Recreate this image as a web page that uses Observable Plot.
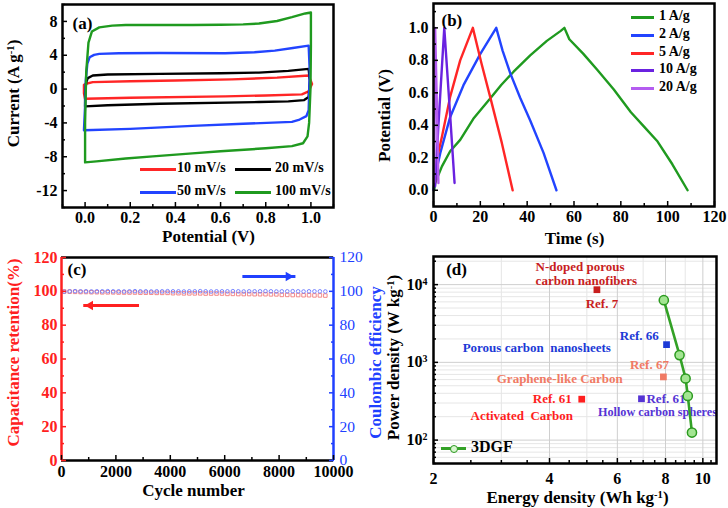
<!DOCTYPE html>
<html><head><meta charset="utf-8">
<script src="https://cdn.jsdelivr.net/npm/d3@7"></script>
<script src="https://cdn.jsdelivr.net/npm/@observablehq/plot@0.6"></script>
<style>
html,body{margin:0;padding:0;background:#fff;}
#root{position:relative;width:728px;height:508px;overflow:hidden;font-family:"Liberation Serif","Times New Roman",serif;font-weight:bold;}
#root svg{position:absolute;left:0;top:0;}
.lg-line{position:absolute;height:3px;}
.lg-text{position:absolute;line-height:1;white-space:nowrap;}
.lg-dot{position:absolute;border-radius:50%;box-sizing:border-box;}
</style></head><body><div id="root"></div>
<script>
// ---------- (a) cyclic voltammetry ----------
const cvLabels = ["10 mV/s", "20 mV/s", "50 mV/s", "100 mV/s"];
const cvColors = ["#ff2626", "#000000", "#2244ff", "#1f9a1f"];
const cv10 = [[0.0,-1.14],[-0.005,-0.5],[-0.005,0.5],[0.004,0.63],[0.034,0.82],[0.2,0.92],[0.4,1.02],[0.65,1.15],[0.85,1.35],[0.99,1.6],[1.005,0.6],[0.99,-0.27],[0.96,-0.63],[0.8,-0.75],[0.62,-0.86],[0.2,-1.02],[0.0,-1.14]];
const cv20 = [[0.0,-2.04],[0.0,-0.5],[0.005,0.8],[0.012,1.29],[0.034,1.6],[0.1,1.72],[0.33,1.8],[0.6,1.88],[0.77,1.95],[0.9,2.15],[0.99,2.39],[0.995,1.0],[0.99,-0.94],[0.97,-1.3],[0.9,-1.45],[0.77,-1.53],[0.33,-1.73],[0.1,-1.92],[0.0,-2.04]];
const cv50 = [[-0.005,-4.86],[0.0,-2],[0.003,1],[0.01,3.0],[0.02,3.76],[0.04,4.05],[0.063,4.16],[0.15,4.24],[0.33,4.27],[0.62,4.23],[0.75,4.35],[0.84,4.55],[0.92,4.85],[0.99,5.14],[0.995,2],[0.99,-2.5],[0.98,-3.2],[0.95,-3.6],[0.916,-3.88],[0.7,-4.1],[0.475,-4.35],[0.2,-4.7],[-0.005,-4.86]];
const cv100 = [[0.0,-8.67],[0.0,-4],[0.005,2],[0.015,5.5],[0.03,6.8],[0.063,7.3],[0.12,7.5],[0.18,7.57],[0.3,7.58],[0.475,7.57],[0.6,7.6],[0.7,7.65],[0.77,7.75],[0.85,8.05],[0.916,8.5],[0.975,8.94],[1.0,9.06],[1.0,5],[0.998,0],[0.992,-4],[0.985,-5.6],[0.965,-6.4],[0.916,-6.75],[0.8,-7.0],[0.6,-7.35],[0.475,-7.6],[0.3,-7.95],[0.18,-8.2],[0.05,-8.55],[0.0,-8.67]];
const cvCurves = [cv10, cv20, cv50, cv100];
const cvPotentialTicks = [0, 0.2, 0.4, 0.6, 0.8, 1.0];
const cvPotentialMinor = [-0.1, 0.1, 0.3, 0.5, 0.7, 0.9, 1.1];
const cvCurrentTicks = [-12, -8, -4, 0, 4, 8];
const cvCurrentMinor = [-14, -10, -6, -2, 2, 6, 10];

// ---------- (b) galvanostatic charge-discharge ----------
const gcdLabels = ["1 A/g", "2 A/g", "5 A/g", "10 A/g", "20 A/g"];
const gcdColors = ["#1f9a1f", "#2244ff", "#ff2626", "#6a22e0", "#b45cf0"];
const gcd1 = [[0.3,0],[0.7,0.045],[3.6,0.147],[7.1,0.24],[11.4,0.31],[17,0.44],[24.2,0.565],[29,0.65],[34.2,0.73],[41.3,0.83],[48.4,0.92],[54.2,0.98],[55.9,1.0],[58,0.93],[64,0.84],[70,0.74],[77,0.62],[84.3,0.48],[90,0.39],[95.7,0.3],[102,0.16],[108.5,0.0]];
const gcd2 = [[0,0],[0.7,0.086],[2.9,0.23],[7.1,0.45],[12.8,0.647],[20,0.84],[26.8,1.0],[29.5,0.86],[32.8,0.72],[37,0.57],[41.3,0.43],[47,0.23],[52.5,0.0]];
const gcd5 = [[0.7,0.045],[1.4,0.19],[3.6,0.33],[7.1,0.575],[11.4,0.80],[16.8,1.0],[20.5,0.78],[24.2,0.575],[29.2,0.29],[33.8,0.0]];
const gcd10 = [[0.7,0.025],[2.1,0.4],[4.6,1.0],[6.8,0.53],[9.0,0.045]];
const gcd20 = [[0.3,0.05],[0.7,1.0],[1.4,0.55],[2.1,0.045]];
const gcdCurves = [gcd1, gcd2, gcd5, gcd10, gcd20];
const timeTicks = [0, 20, 40, 60, 80, 100, 120];
const timeMinor = [10, 30, 50, 70, 90, 110];
const potTicks = [0, 0.2, 0.4, 0.6, 0.8, 1.0];
const potMinor = [0.1, 0.3, 0.5, 0.7, 0.9, 1.1];

// ---------- (c) cycling stability ----------
const cycleNumber = [100,300,500,700,900,1100,1300,1500,1700,1900,2100,2300,2500,2700,2900,3100,3300,3500,3700,3900,4100,4300,4500,4700,4900,5100,5300,5500,5700,5900,6100,6300,6500,6700,6900,7100,7300,7500,7700,7900,8100,8300,8500,8700,8900,9100,9300,9500,9700];
const retention = [99.9,99.8,99.7,99.6,99.6,99.5,99.5,99.4,99.4,99.4,99.3,99.3,99.3,99.3,99.2,99.2,99.2,99.1,99.1,99.1,98.9,98.9,98.8,98.8,98.8,98.8,98.7,98.7,98.7,98.7,98.5,98.5,98.4,98.4,98.4,98.3,98.3,98.3,98.2,98.2,97.9,97.9,97.8,97.8,97.7,97.7,97.6,97.6,97.5];
const efficiency = [99.8,100.0,100.1,100.0,100.0,99.9,100.0,100.0,100.1,100.0,100.0,99.9,100.0,100.1,100.0,100.0,99.9,100.0,100.0,100.1,100.0,100.0,99.9,100.0,100.0,100.1,100.0,99.9,100.0,100.0,100.0,100.1,100.0,99.9,100.0,100.0,100.0,100.1,100.0,99.9,100.0,100.0,100.1,100.0,99.9,100.0,100.0,100.0,99.9];
const cycleTicks = [0, 2000, 4000, 6000, 8000, 10000];
const cycleMinor = [1000, 3000, 5000, 7000, 9000];
const pctTicks = [0, 20, 40, 60, 80, 100, 120];
const pctMinor = [10, 30, 50, 70, 90, 110];
const arrowFrom = [2850, 6650];
const arrowTo = [800, 8600];
const arrowLevel = [91.6, 108.8];
const arrowColors = ["#ff2020", "#2040ff"];

// ---------- (d) Ragone plot ----------
const dgfEnergy = [7.92, 8.70, 9.02, 9.14, 9.37];
const dgfPower = [6300, 1240, 620, 370, 125];
const refNames = ["Ref. 7", "Ref. 66", "Ref. 67", "Ref. 61", "Ref. 61"];
const refMaterials = ["N-doped porous\ncarbon nanofibers", "Porous carbon  nanosheets", "Graphene-like Carbon", "Activated  Carbon", "Hollow carbon spheres"];
const refEnergy = [5.31, 8.05, 7.9, 4.85, 6.93];
const refPower = [8600, 1690, 650, 336, 340];
const refColors = ["#c81e1e", "#1c3ad6", "#f07a64", "#ff1e1e", "#5534d4"];
const energyTicks = [2, 4, 6, 8, 10];
const energyMinor = [2.5, 3, 3.5, 4.5, 5, 5.5, 6.5, 7, 7.5, 8.5, 9, 9.5, 10.5];
const energyGrid = [3, 5, 7, 9];
const powerTicks = [100, 1000, 10000];
const powerMinor = [50,60,70,80,90,200,300,400,500,600,700,800,900,2000,3000,4000,5000,6000,7000,8000,9000,20000];

// ---------- helpers ----------
const W = 728, H = 508;
const FONT = '"Liberation Serif","Times New Roman",serif';
const root = document.getElementById("root");
const base = (l, t, r, b) => ({
  width: W, height: H, marginLeft: l, marginTop: t, marginRight: W - r, marginBottom: H - b,
  style: {background: "transparent", fontFamily: FONT, fontWeight: "bold", fontSize: "16px", color: "#000", overflow: "visible"}
});
function axX(major, minor, fmt, o = {}) {
  const c = o.color || "#000", m = [];
  if (minor) m.push(Plot.axisX(minor, {anchor: "bottom", label: null, tickSize: -3, tickFormat: () => "", stroke: c, strokeWidth: 1.5}));
  m.push(Plot.axisX(major, {anchor: "bottom", label: null, tickSize: -5, tickFormat: () => "", stroke: c, strokeWidth: 1.5}));
  m.push(Plot.axisX(major, {anchor: "bottom", label: null, tickSize: 0, tickPadding: o.pad ?? 4, tickFormat: fmt, fill: c, fontSize: o.size || 16, fontWeight: o.weight || "bold"}));
  return m;
}
function axY(major, minor, fmt, o = {}) {
  const c = o.color || "#000", a = o.anchor || "left", m = [];
  if (minor) m.push(Plot.axisY(minor, {anchor: a, label: null, tickSize: -3, tickFormat: () => "", stroke: c, strokeWidth: 1.5}));
  m.push(Plot.axisY(major, {anchor: a, label: null, tickSize: -5, tickFormat: () => "", stroke: c, strokeWidth: 1.5}));
  m.push(Plot.axisY(major, {anchor: a, label: null, tickSize: 0, tickPadding: o.pad ?? 5, tickFormat: fmt, fill: c, fontSize: o.size || 16, fontWeight: o.weight || "bold"}));
  return m;
}
const yLabel = (txt, dx, dy, o = {}) => Plot.text([txt], {text: d => d, frameAnchor: o.anchor || "left", dx, dy, rotate: -90, textAnchor: "middle", lineAnchor: "middle", fontSize: 17, fontWeight: "bold", fill: o.color || "#000"});
const xLabel = (txt, dx, dy) => Plot.text([txt], {text: d => d, frameAnchor: "bottom", dx, dy, textAnchor: "middle", lineAnchor: "middle", fontSize: 17, fontWeight: "bold"});
const panelTag = (txt, dx, dy) => Plot.text([txt], {text: d => d, frameAnchor: "top-left", dx, dy, textAnchor: "start", lineAnchor: "middle", fontSize: 17, fontWeight: "bold"});

function supify(svg) {
  svg.querySelectorAll("text, tspan").forEach(el => {
    if (el.children.length) return;
    const s = el.textContent;
    if (!s.includes("{")) return;
    el.textContent = "";
    const re = /\{([^}]*)\}/g; let last = 0, m;
    while ((m = re.exec(s))) {
      if (m.index > last) el.appendChild(document.createTextNode(s.slice(last, m.index)));
      const ts = document.createElementNS("http://www.w3.org/2000/svg", "tspan");
      ts.setAttribute("baseline-shift", "super");
      ts.setAttribute("font-size", "0.62em");
      ts.textContent = m[1];
      el.appendChild(ts);
      last = re.lastIndex;
    }
    if (last < s.length) el.appendChild(document.createTextNode(s.slice(last)));
  });
}
function place(svg) { root.appendChild(svg); supify(svg); }
function legendLine(x, y, len, color, text, tx, size) {
  const l = document.createElement("div");
  l.className = "lg-line";
  Object.assign(l.style, {left: x + "px", top: (y - 1.5) + "px", width: len + "px", background: color});
  root.appendChild(l);
  const t = document.createElement("div");
  t.className = "lg-text"; t.textContent = text;
  Object.assign(t.style, {left: tx + "px", top: (y - size * 0.55) + "px", fontSize: size + "px"});
  root.appendChild(t);
}

// ---------- panel (a) ----------
const cvRows = cvCurves.flatMap((pts, i) => pts.map(([V, I]) => ({V, I, rate: cvLabels[i]})));
place(Plot.plot({
  ...base(62, 4, 333, 207),
  x: {domain: [-0.1, 1.1]}, y: {domain: [-14, 10]},
  color: {domain: cvLabels, range: cvColors},
  marks: [
    Plot.line(cvRows, {x: "V", y: "I", z: "rate", stroke: "rate", strokeWidth: 2.4}),
    ...axX(cvPotentialTicks, cvPotentialMinor, d => d.toFixed(1)),
    ...axY(cvCurrentTicks, cvCurrentMinor, d => String(d)),
    Plot.frame({stroke: "#000", strokeWidth: 2.5}),
    panelTag("(a)", 10, 19),
    xLabel("Potential (V)", 10.5, 29),
    yLabel("Current (A g{-1})", -49, -12.5)
  ]
}));

// ---------- panel (b) ----------
const gcdRows = gcdCurves.flatMap((pts, i) => pts.map(([t, V]) => ({t, V, rate: gcdLabels[i]})));
place(Plot.plot({
  ...base(433, 3, 714, 206),
  x: {domain: [0, 120]}, y: {domain: [-0.1, 1.15]},
  color: {domain: gcdLabels, range: gcdColors},
  marks: [
    Plot.line(gcdRows, {x: "t", y: "V", z: "rate", stroke: "rate", strokeWidth: 2.4}),
    ...axX(timeTicks, timeMinor, d => String(d)),
    ...axY(potTicks, potMinor, d => d.toFixed(1)),
    Plot.frame({stroke: "#000", strokeWidth: 2.5}),
    panelTag("(b)", 8, 17),
    xLabel("Time (s)", 0.5, 32),
    yLabel("Potential (V)", -49, 10.5)
  ]
}));

// ---------- panel (c) ----------
const cycRows = cycleNumber.map((c, i) => ({c, ret: retention[i], eff: efficiency[i]}));
const arrowRows = arrowFrom.map((x1, i) => ({x1, x2: arrowTo[i], y: arrowLevel[i], color: arrowColors[i], rot: arrowTo[i] < x1 ? -90 : 90, off: arrowTo[i] < x1 ? 7 : -7}));
place(Plot.plot({
  ...base(61, 257, 333, 460),
  x: {domain: [0, 10000]}, y: {domain: [0, 120]},
  marks: [
    Plot.dot(cycRows, {x: "c", y: "ret", symbol: "square", r: 2, stroke: "#f27c7c", strokeWidth: 0.9, fill: "none"}),
    Plot.dot(cycRows, {x: "c", y: "eff", symbol: "circle", r: 1.8, stroke: "#6a78ff", strokeWidth: 0.9, fill: "none"}),
    Plot.ruleY([0], {stroke: "#000", strokeWidth: 2.5}),
    Plot.ruleY([120], {stroke: "#000", strokeWidth: 2.5}),
    Plot.ruleX([0], {stroke: "#ff2020", strokeWidth: 2.5}),
    Plot.ruleX([10000], {stroke: "#2040ff", strokeWidth: 2.5}),
    ...axX(cycleTicks, cycleMinor, d => String(d), {pad: 5}),
    ...axY(pctTicks, pctMinor, d => String(d), {color: "#ff2020", pad: 4}),
    ...axY(pctTicks, pctMinor, d => String(d), {color: "#2040ff", anchor: "right", pad: 6, weight: "normal", size: 15.5}),
    ...arrowRows.map(a => Plot.link([a], {x1: "x1", x2: "x2", y1: "y", y2: "y", stroke: a.color, strokeWidth: 3})),
    ...arrowRows.map(a => Plot.dot([a], {x: "x2", y: "y", symbol: "triangle2", r: 4.5, fill: a.color, rotate: a.rot, dx: a.off})),
    panelTag("(c)", 6, 12),
    xLabel("Cycle number", -4, 30),
    yLabel("Capacitance retention(%)", -48, -6.5, {color: "#ff2020"}),
    yLabel("Coulombic efficiency", 42, 3.5, {color: "#2040ff", anchor: "right"})
  ]
}));

// ---------- panel (d) ----------
const dgfRows = dgfEnergy.map((E, i) => ({E, P: dgfPower[i]}));
const refRows = refNames.map((n, i) => ({name: n, mat: refMaterials[i], E: refEnergy[i], P: refPower[i], color: refColors[i]}));
const refNameOffsets = [[5, 14, "middle"], [-7.7, -9.3, "end"], [-14, -11.6, "middle"], [-10, 0, "end"], [5, 0, "start"]];
const refMatOffsets = [[-61.3, -16.5, "start"], [-55.7, 3, "end"], [-40.6, 2, "end"], [-8.7, 16.6, "end"], [-43.5, 13.3, "start"]];
const refMatSizes = [13, 13, 13, 13, 12.2];
const dFrameW = 716 - 433, dFrameH = 463 - 256;
place(Plot.plot({
  ...base(433, 256, 716, 463),
  x: {type: "log", domain: [2, 10.85], axis: null}, y: {type: "log", domain: [50, 23000], axis: null},
  marks: [
    Plot.ruleX(energyGrid, {stroke: "#e6e6e6", strokeWidth: 1}),
    Plot.ruleY(powerMinor, {stroke: "#e6e6e6", strokeWidth: 1}),
    Plot.ruleX(energyTicks, {stroke: "#cfcfcf", strokeWidth: 1}),
    Plot.ruleY(powerTicks, {stroke: "#cfcfcf", strokeWidth: 1}),
    ...refRows.map((r, i) => Plot.text([r], {x: "E", y: "P", text: "name", fill: r.color, dx: refNameOffsets[i][0], dy: refNameOffsets[i][1], textAnchor: refNameOffsets[i][2], lineAnchor: "middle", fontSize: 13, fontWeight: "bold"})),
    ...refRows.map((r, i) => Plot.text([r], {x: "E", y: "P", text: "mat", fill: r.color, dx: refMatOffsets[i][0], dy: refMatOffsets[i][1], textAnchor: refMatOffsets[i][2], lineAnchor: "middle", lineHeight: 1.1, fontSize: refMatSizes[i], fontWeight: "bold"})),
    ...refRows.map(r => Plot.dot([r], {x: "E", y: "P", symbol: "square", r: 3.8, fill: r.color})),
    Plot.line(dgfRows, {x: "E", y: "P", stroke: "#33a126", strokeWidth: 2.6}),
    Plot.dot(dgfRows, {x: "E", y: "P", r: 4.6, fill: "#a3e592", stroke: "#2b9a1f", strokeWidth: 1.5}),
    // log axes: ticks drawn inward along the frame, labels as text
    Plot.tickX(energyMinor, {x: d => d, insetTop: dFrameH - 3, stroke: "#000", strokeWidth: 1.5}),
    Plot.tickX(energyTicks, {x: d => d, insetTop: dFrameH - 5, stroke: "#000", strokeWidth: 1.5}),
    Plot.text(energyTicks, {x: d => d, frameAnchor: "bottom", dy: 15, text: d => String(d), lineAnchor: "middle", fontSize: 16, fontWeight: "bold"}),
    Plot.tickY(powerMinor, {y: d => d, insetRight: dFrameW - 3, stroke: "#000", strokeWidth: 1.5}),
    Plot.tickY(powerTicks, {y: d => d, insetRight: dFrameW - 5, stroke: "#000", strokeWidth: 1.5}),
    Plot.text(powerTicks, {y: d => d, frameAnchor: "left", dx: -6, text: d => `10{${Math.round(Math.log10(d))}}`, textAnchor: "end", lineAnchor: "middle", fontSize: 16, fontWeight: "bold"}),
    Plot.frame({stroke: "#000", strokeWidth: 2.5}),
    panelTag("(d)", 12.7, 13),
    xLabel("Energy density (Wh kg{-1})", 2.5, 34),
    yLabel("Power density (W kg{-1})", -40, -2.5)
  ]
}));

// ---------- legends ----------
const cvLegendPos = [[140, 169], [235, 169], [140, 192], [235, 192]];
cvLabels.forEach((lab, i) => legendLine(cvLegendPos[i][0], cvLegendPos[i][1], 36, cvColors[i], lab, cvLegendPos[i][0] + (i % 2 ? 40 : 37), 14));
const gcdLegendY = [17, 35, 53, 70, 88];
gcdLabels.forEach((lab, i) => legendLine(631, gcdLegendY[i], 23, gcdColors[i], lab, 659, 14));
legendLine(441, 448, 25, "#33a126", "3DGF", 471, 16);
const ld = document.createElement("div");
ld.className = "lg-dot";
Object.assign(ld.style, {left: "450px", top: "444.5px", width: "8px", height: "8px", background: "#d8f5cf", border: "1.5px solid #2b9a1f"});
root.appendChild(ld);
</script></body></html>
